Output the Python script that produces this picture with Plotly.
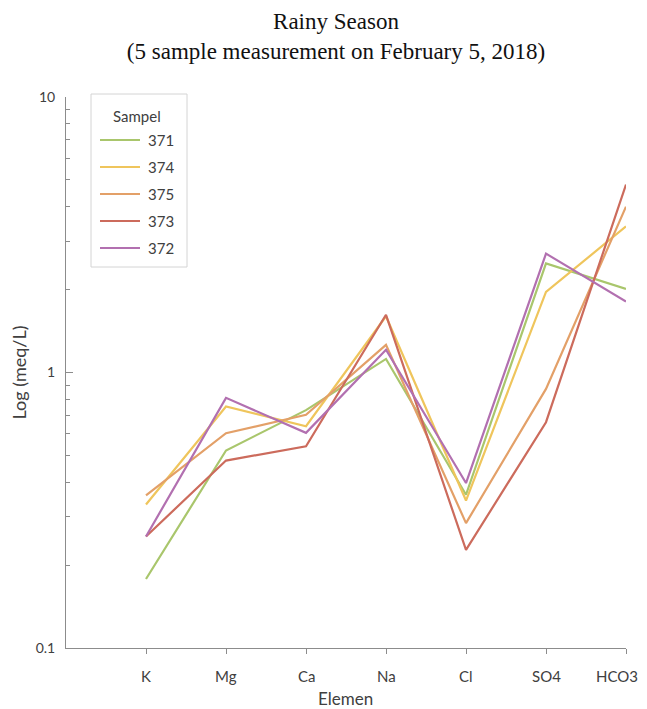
import plotly.graph_objects as go

elements = ["K", "Mg", "Ca", "Na", "Cl", "SO4", "HCO3"]
samples = ["371", "374", "375", "373", "372"]
s371 = [0.178, 0.521, 0.73, 1.12, 0.36, 2.49, 2.01]
s374 = [0.332, 0.753, 0.638, 1.60, 0.343, 1.96, 3.39]
s375 = [0.358, 0.602, 0.702, 1.26, 0.284, 0.872, 4.00]
s373 = [0.254, 0.479, 0.540, 1.62, 0.227, 0.660, 4.81]
s372 = [0.254, 0.809, 0.604, 1.21, 0.397, 2.70, 1.81]
values = [s371, s374, s375, s373, s372]
colors = ["#a9c66c", "#efc55c", "#e3a068", "#cc6b5c", "#b270b0"]

x_idx = list(range(len(elements)))

fig = go.Figure()
for name, vals, col in zip(samples, values, colors):
    fig.add_trace(go.Scatter(
        x=x_idx, y=vals, mode="lines", name=name, showlegend=False,
        line=dict(color=col, width=2.2),
    ))

axis_col = "#8c8c8c"
font_sans = "Lato, Open Sans, sans-serif"
text_col = "#404040"

W, H = 639, 709
L, T, PW, PH = 58, 89, 560, 551


def px(xp):  # page x -> paper x (plot area starts at page x 66)
    return (xp - (L + 8)) / PW


def py(yp):  # page y -> paper y (plot area bottom at page y 648)
    return ((T + 8 + PH) - yp) / PH


# legend built from layout shapes/annotations (40px line samples)
shapes = [dict(type="rect", xref="paper", yref="paper",
               x0=px(91), x1=px(187), y0=py(267), y1=py(94),
               line=dict(color="#d4d4d4", width=1), fillcolor="white", layer="above")]
annotations = [dict(text="Sampel", xref="paper", yref="paper",
                    x=px(137), y=py(116), xanchor="center", yanchor="middle",
                    showarrow=False, font=dict(size=15, family=font_sans, color=text_col))]
for i, (name, col) in enumerate(zip(samples, colors)):
    yy = 140 + 27 * i
    shapes.append(dict(type="line", xref="paper", yref="paper",
                       x0=px(100), x1=px(140), y0=py(yy), y1=py(yy),
                       line=dict(color=col, width=2.2), layer="above"))
    annotations.append(dict(text=name, xref="paper", yref="paper",
                            x=px(146), y=py(yy), xanchor="left", yanchor="middle",
                            showarrow=False,
                            font=dict(size=15, family=font_sans, color=text_col)))

# category labels under the x axis, placed on the data scale
for i, el in enumerate(elements):
    annotations.append(dict(text=el, xref="x", yref="paper", x=i, y=py(676),
                            xanchor="center", yanchor="middle", showarrow=False,
                            xshift=-9 if i == len(elements) - 1 else 0,
                            font=dict(size=15, family=font_sans, color=text_col)))
# x axis title
annotations.append(dict(text="Elemen", xref="paper", yref="paper",
                        x=px(345.5), y=py(698), xanchor="center", yanchor="middle",
                        showarrow=False, font=dict(size=17, family=font_sans, color=text_col)))

fig.update_layout(
    width=W, height=H,
    margin=dict(l=L, r=W - L - PW, t=T, b=H - T - PH),
    paper_bgcolor="white", plot_bgcolor="white",
    title=dict(
        text="Rainy Season<br>(5 sample measurement on February 5, 2018)",
        x=328 / W, xanchor="center", y=1 - 20.8 / H, yanchor="top",
        font=dict(family="Liberation Serif, Times New Roman, serif", size=23, color="#111"),
    ),
    font=dict(family=font_sans, size=13, color=text_col),
    showlegend=False,
    shapes=shapes,
    annotations=annotations,
    xaxis=dict(
        range=[-1, 6], tickmode="array", tickvals=x_idx, showticklabels=False,
        showgrid=False, zeroline=False, showline=True, linecolor=axis_col, linewidth=1,
        ticks="outside", ticklen=5, tickcolor=axis_col, automargin=False,
    ),
    yaxis=dict(
        type="log", range=[-1, 1], tickvals=[0.1, 1, 10], ticktext=["0.1", "1", "10"],
        showgrid=False, zeroline=False, showline=True, linecolor=axis_col, linewidth=1,
        ticks="inside", ticklen=7, tickcolor=axis_col, ticklabelstandoff=7,
        minor=dict(ticks="inside", ticklen=4, tickcolor=axis_col,
                   tickvals=[0.2, 0.3, 0.4, 0.5, 0.6, 0.7, 0.8, 0.9,
                             2, 3, 4, 5, 6, 7, 8, 9], showgrid=False),
        title=dict(text="Log (meq/L)", standoff=6, font=dict(size=18)),
        tickfont=dict(size=14), automargin=False,
    ),
)

fig.write_html("out.html")
